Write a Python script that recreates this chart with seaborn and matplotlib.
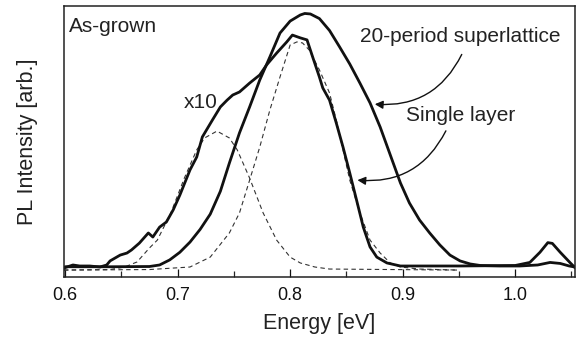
import numpy as np
import pandas as pd
import matplotlib
matplotlib.use("Agg")
import matplotlib.pyplot as plt
from matplotlib.patches import FancyArrowPatch
from matplotlib.ticker import MultipleLocator
import seaborn as sns

# 20-period superlattice (smooth, taller curve)
sl_energy = [0.600, 0.640, 0.675, 0.684, 0.693, 0.702, 0.711, 0.720, 0.729, 0.738,
             0.746, 0.755, 0.764, 0.773, 0.782, 0.791, 0.800, 0.809, 0.813, 0.818,
             0.826, 0.835, 0.844, 0.853, 0.862, 0.871, 0.880, 0.889, 0.898, 0.906,
             0.915, 0.924, 0.933, 0.942, 0.951, 0.960, 0.969, 0.986, 1.004, 1.020,
             1.031, 1.040, 1.048, 1.053]
sl_intensity = [0.003, 0.003, 0.004, 0.010, 0.030, 0.060, 0.100, 0.150, 0.210, 0.300,
                0.411, 0.530, 0.632, 0.738, 0.829, 0.923, 0.970, 0.994, 1.000, 0.998,
                0.980, 0.933, 0.868, 0.801, 0.726, 0.648, 0.553, 0.443, 0.333, 0.254,
                0.187, 0.136, 0.089, 0.049, 0.026, 0.014, 0.008, 0.006, 0.006, 0.010,
                0.020, 0.016, 0.006, 0.002]

# single layer (x10, noisy curve with shoulder)
single_energy = [0.599, 0.607, 0.613, 0.622, 0.631, 0.637, 0.640, 0.649, 0.655, 0.659,
                 0.666, 0.674, 0.678, 0.684, 0.690, 0.696, 0.702, 0.711, 0.717, 0.722,
                 0.731, 0.738, 0.744, 0.749, 0.755, 0.764, 0.773, 0.779, 0.788, 0.797,
                 0.802, 0.809, 0.815, 0.820, 0.826, 0.829, 0.835, 0.841, 0.847, 0.853,
                 0.859, 0.865, 0.871, 0.877, 0.886, 0.898, 0.950, 1.000, 1.013, 1.022,
                 1.029, 1.033, 1.040, 1.049, 1.053]
single_intensity = [-0.002, 0.010, 0.006, 0.006, 0.002, 0.010, 0.026, 0.049, 0.057, 0.069,
                    0.096, 0.136, 0.120, 0.159, 0.179, 0.226, 0.285, 0.384, 0.435, 0.514,
                    0.581, 0.632, 0.659, 0.679, 0.691, 0.726, 0.758, 0.797, 0.844, 0.888,
                    0.915, 0.904, 0.896, 0.829, 0.750, 0.707, 0.659, 0.569, 0.474, 0.372,
                    0.266, 0.159, 0.081, 0.041, 0.018, 0.006, 0.006, 0.008, 0.020, 0.060,
                    0.098, 0.095, 0.060, 0.018, 0.000]

# Gaussian fit components (dashed)
fit1_energy = [0.599, 0.640, 0.653, 0.664, 0.675, 0.682, 0.694, 0.706, 0.717, 0.724,
               0.735, 0.746, 0.753, 0.764, 0.776, 0.788, 0.800, 0.809, 0.822, 0.835, 0.949]
fit1_intensity = [-0.010, -0.008, 0.002, 0.022, 0.077, 0.108, 0.215, 0.352, 0.463, 0.510,
                  0.537, 0.510, 0.463, 0.352, 0.215, 0.108, 0.041, 0.018, 0.002, -0.006, -0.010]

fit2_energy = [0.599, 0.675, 0.711, 0.729, 0.746, 0.755, 0.764, 0.773, 0.782, 0.791,
               0.800, 0.806, 0.811, 0.817, 0.826, 0.835, 0.841, 0.847, 0.853, 0.862,
               0.871, 0.880, 0.889, 0.898, 0.915, 0.949]
fit2_intensity = [-0.010, -0.008, 0.002, 0.041, 0.136, 0.215, 0.344, 0.474, 0.620, 0.750,
                  0.876, 0.888, 0.884, 0.856, 0.778, 0.687, 0.581, 0.463, 0.344, 0.215,
                  0.108, 0.057, 0.018, 0.002, -0.006, -0.010]

sns.set_style("ticks")
plt.rcParams['font.family'] = ['Liberation Sans', 'DejaVu Sans']

fig = plt.figure(figsize=(5.76, 3.44), dpi=100)
ax = fig.add_axes([0.111, 0.195, 0.887, 0.788])

dash_kw = dict(color='#333333', linewidth=0.8, dashes=(4, 3))
for xs, ys in [(fit1_energy, fit1_intensity), (fit2_energy, fit2_intensity)]:
    ax.plot(xs, ys, **dash_kw)

sns.lineplot(x=sl_energy, y=sl_intensity, ax=ax, color='#111111',
             linewidth=2.0, estimator=None, sort=False)
sns.lineplot(x=single_energy, y=single_intensity, ax=ax, color='#111111',
             linewidth=2.0, estimator=None, sort=False)

ax.set_xlim(0.599, 1.053)
ax.set_ylim(-0.037, 1.03)

# ticks only on the bottom, pointing in
ax.xaxis.set_major_locator(MultipleLocator(0.1))
ax.xaxis.set_minor_locator(MultipleLocator(0.05))
ax.xaxis.set_major_formatter(matplotlib.ticker.FormatStrFormatter('%.1f'))
ax.tick_params(axis='x', which='major', direction='in', length=6, width=0.9,
               labelsize=13, pad=7, colors='#111111')
ax.tick_params(axis='x', which='minor', direction='in', length=4, width=0.9)
ax.set_yticks([])
for s in ax.spines.values():
    s.set_linewidth(1.1)
    s.set_color('#222222')

ax.set_xlabel('Energy [eV]', fontsize=15.5, labelpad=7, color='#222222')
ax.set_ylabel('PL Intensity [arb.]', fontsize=15.5, color='#222222')
ax.yaxis.set_label_coords(-0.051, 0.5)

# annotations
ax.text(0.0095, 0.922, 'As-grown', transform=ax.transAxes, fontsize=15,
        ha='left', va='center', color='#222222')
ax.text(0.775, 0.887, '20-period superlattice', transform=ax.transAxes, fontsize=15,
        ha='center', va='center', color='#222222')
ax.text(0.777, 0.594, 'Single layer', transform=ax.transAxes, fontsize=15,
        ha='center', va='center', color='#222222')
ax.text(0.268, 0.645, 'x10', transform=ax.transAxes, fontsize=15,
        ha='center', va='center', color='#222222')

arrow_kw = dict(arrowstyle='-|>', mutation_scale=12, color='#111111',
                linewidth=1.0, connectionstyle='arc3,rad=-0.35')
ax.add_patch(FancyArrowPatch((0.781, 0.830), (0.603, 0.638),
                             transform=ax.transAxes, **arrow_kw))
ax.add_patch(FancyArrowPatch((0.750, 0.548), (0.569, 0.358),
                             transform=ax.transAxes, **arrow_kw))

fig.savefig('out.png', dpi=100)
